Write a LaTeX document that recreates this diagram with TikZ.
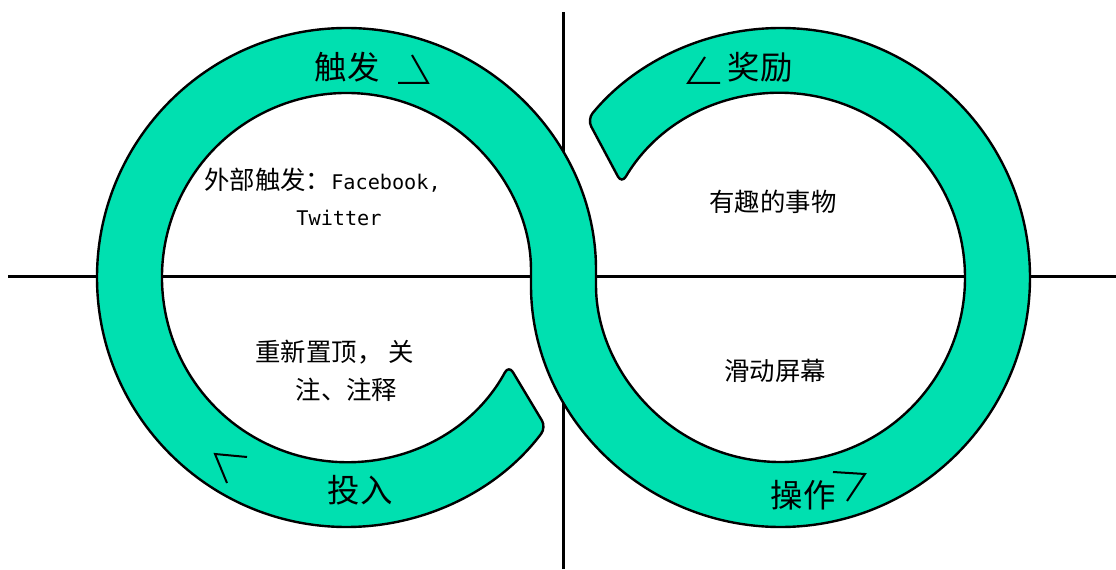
\documentclass[tikz,border=0pt]{standalone}
\usepackage{fontspec}
\setmainfont{Noto Sans CJK SC}
\setmonofont{DejaVu Sans Mono}
\usepackage{tikz}
\usepackage{xcolor}
\usetikzlibrary{calc}
\definecolor{mint}{RGB}{0,224,176}

\begin{document}
\begin{tikzpicture}[x=0.5pt, y=0.5pt,
    band/.style={fill=mint, draw=black, line width=1.2pt, rounded corners=4pt},
    axisline/.style={line width=1.5pt},
    tick/.style={line width=1pt},
    ringlabel/.style={font=\fontsize{16.2}{18}\selectfont},
    innertext/.style={font=\fontsize{12.7}{15}\selectfont}]
  \useasboundingbox (0,0) rectangle (1116,569);
  \coordinate (L) at (346.5,291.5);
  \coordinate (R) at (780.5,291.5);

  \draw[axisline] (8,292) -- (1116,292);
  \draw[axisline] (563,0) -- (563,557);

  \draw[band] ([shift={(-28.4:184.5)}]L) arc[start angle=-28.4, end angle=-360, radius=184.5]
    arc[start angle=180, end angle=500.7, radius=249.5]
    -- ([shift={(149.4:184.5)}]R) arc[start angle=149.4, end angle=-180, radius=184.5]
    arc[start angle=0, end angle=323.1, radius=249.5] -- cycle;

  \node[ringlabel] (trigger) at (347,502) {触发};
  \node[ringlabel] (reward) at (760,502) {奖励};
  \node[ringlabel] (invest) at (360,79) {投入};
  \node[ringlabel] (action) at (803,74) {操作};

  \draw[tick] (412,514) -- (428,486) -- (398,486);
  \draw[tick] (705,512) -- (688,486) -- (720,486);
  \draw[tick] (247,112) -- (215,115) -- (227,86);
  \draw[tick] (833,97) -- (865,95) -- (847,68);

  \node[innertext] (external) at (322.5,389) {外部触发：\fontsize{10.1}{15}\ttfamily Facebook,};
  \node[innertext, font=\fontsize{10.1}{15}\ttfamily] (twitter) at (339,351) {Twitter};
  \node[innertext] (fun) at (773,367) {有趣的事物};
  \node[innertext] (repost) at (334.5,217) {重新置顶， 关};
  \node[innertext] (notes) at (346.5,179) {注、注释};
  \node[innertext] (scroll) at (775,198) {滑动屏幕};
\end{tikzpicture}
\end{document}
